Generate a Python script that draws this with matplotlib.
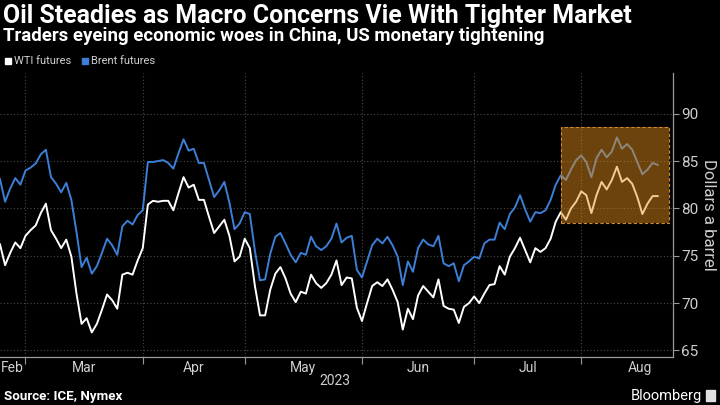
import numpy as np
import pandas as pd
import matplotlib
matplotlib.use("Agg")
import matplotlib.pyplot as plt
from matplotlib import font_manager
from matplotlib.patches import Rectangle

# daily futures settlements, weekdays 2023-02-21 .. 2023-08-21
dates = pd.bdate_range("2023-02-21", "2023-08-21")

brent = [83.1, 80.7, 82.1, 83.2, 82.5, 84.0, 84.3, 84.75, 85.7, 86.2,
         83.3, 82.6, 81.7, 82.7, 80.9, 77.5, 73.8, 74.8, 73.1, 73.9,
         75.3, 76.8, 76.1, 75.1, 78.1, 78.7, 78.3, 79.3, 79.8, 84.9,
         84.9, 85.0, 85.1, 84.8, 84.2, 85.8, 87.3, 86.1, 86.3, 84.8,
         84.8, 83.0, 81.2, 81.9, 82.8, 80.6, 77.8, 78.4, 79.6, 79.4,
         75.5, 72.4, 72.5, 75.2, 77.0, 77.4, 76.3, 75.1, 74.3, 75.3,
         75.1, 77.0, 76.0, 75.6, 76.0, 76.8, 78.4, 76.4, 76.9, 77.1,
         73.5, 72.7, 74.4, 76.1, 76.8, 76.3, 77.0, 76.1, 74.9, 71.9,
         74.4, 73.3, 75.8, 76.7, 76.2, 76.0, 77.1, 74.2, 73.9, 74.2,
         72.3, 74.0, 74.4, 74.9, 74.7, 76.3, 76.7, 76.7, 78.5, 77.8,
         79.4, 80.1, 81.4, 79.9, 78.6, 79.6, 79.5, 79.8, 80.9, 82.5,
         83.5, 83.0, 84.1, 85.1, 85.6, 84.9, 83.3, 85.3, 86.2, 85.4,
         86.0, 87.5, 86.3, 86.8, 86.2, 84.9, 83.6, 84.1, 84.8, 84.6]

wti = [76.2, 74.0, 75.3, 76.4, 75.8, 77.1, 77.7, 78.2, 79.5, 80.5,
       77.7, 76.8, 75.8, 76.7, 74.9, 71.0, 67.8, 68.4, 66.9, 67.8,
       69.3, 70.9, 70.3, 69.4, 73.0, 73.2, 73.0, 74.5, 75.8, 80.4,
       80.8, 80.7, 80.8, 80.8, 79.8, 81.6, 83.3, 82.2, 82.5, 80.9,
       80.9, 79.1, 77.4, 78.1, 78.8, 77.1, 74.4, 74.9, 76.8, 75.8,
       71.8, 68.7, 68.7, 71.4, 73.1, 73.8, 72.6, 71.0, 70.1, 71.2,
       71.0, 73.0, 72.1, 71.6, 72.1, 73.0, 74.5, 71.9, 72.7, 72.6,
       69.5, 68.1, 70.0, 71.8, 72.2, 71.8, 72.5, 71.4, 70.1, 67.2,
       69.4, 68.3, 70.8, 71.8, 71.2, 70.6, 72.5, 69.7, 69.4, 69.3,
       67.9, 69.6, 70.0, 70.7, 70.0, 71.0, 71.9, 72.0, 73.9, 73.0,
       74.9, 75.8, 76.9, 75.6, 74.3, 75.8, 75.4, 75.8, 76.8, 78.6,
       79.6, 78.8, 80.0, 80.7, 81.8, 81.4, 79.5, 81.4, 82.8, 82.0,
       83.0, 84.4, 82.8, 83.2, 82.6, 81.2, 79.4, 80.5, 81.3, 81.3]

months = ["Feb", "Mar", "Apr", "May", "Jun", "Jul", "Aug"]
yticks = [65, 70, 75, 80, 85, 90]

BG = "black"
BLUE = "#3d7fd6"
GRID = "#4a4a4a"
AXC = "#9a9a9a"
LBL = "#cfcfcf"

names = {f.name for f in font_manager.fontManager.ttflist}
narrow = "Liberation Sans Narrow" if "Liberation Sans Narrow" in names else "Roboto"

fig = plt.figure(figsize=(7.2, 4.05), dpi=100, facecolor=BG)
ax = fig.add_axes([0, 0.1185, 0.9347, 0.7012], facecolor=BG)

x = np.arange(len(dates))
ax.plot(x, brent, color=BLUE, lw=1.4, zorder=3)
ax.plot(x, wti, color="white", lw=1.4, zorder=3)

# highlighted recent stretch
ax.add_patch(Rectangle((110.1, 78.5), 21.1, 10.05, facecolor="#e8901a",
                       alpha=0.47, edgecolor="none", zorder=4))
ax.add_patch(Rectangle((110.1, 78.5), 21.1, 10.05, fill=False,
                       edgecolor="#d08a35", lw=0.8, ls=(0, (3, 2)), zorder=5))

ax.set_xlim(0, 132)
ax.set_ylim(64.3, 94.3)

# month boundaries = last weekday of previous month
alldays = pd.bdate_range("2023-01-02", "2023-09-29")
off = alldays.get_loc(dates[0])
bounds, centers = [], []
for m in range(2, 9):
    pos = np.where(alldays.month == m)[0] - off
    left, right = pos[0] - 1, pos[-1]
    if m > 2:
        bounds.append(left)
    centers.append((max(left, 0) + right) / 2)

ax.set_xticks(bounds)
ax.set_xticklabels([])
ax.set_xticks(centers, minor=True)
ax.set_xticklabels(months, minor=True, fontsize=10, color=LBL, family=narrow)
ax.tick_params(axis="x", which="major", length=5, color=AXC, width=0.8)
ax.tick_params(axis="x", which="minor", length=0, pad=3)

ax.yaxis.tick_right()
ax.set_yticks(yticks)
ax.set_yticklabels([str(v) for v in yticks], family=narrow)
ax.tick_params(axis="y", length=4, color=AXC, width=0.8, labelcolor=LBL,
               labelsize=11, pad=2)

ax.grid(True, which="major", color=GRID, ls=(0, (1, 2)), lw=0.8)
for s in ["top", "left"]:
    ax.spines[s].set_visible(False)
for s in ["right", "bottom"]:
    ax.spines[s].set_color(AXC)
    ax.spines[s].set_linewidth(0.9)

fig.text(709 / 720, 1 - 215 / 405, "Dollars a barrel", rotation=270,
         ha="center", va="center", color=LBL, fontsize=12, family=narrow)
fig.text(335 / 720, 1 - 381 / 405, "2023", ha="center", va="center",
         color=LBL, fontsize=10, family=narrow)

r = fig.canvas.get_renderer()


def fit(t, width):
    w = t.get_window_extent(r).width
    t.set_fontsize(t.get_fontsize() * width / w)


title = fig.text(3 / 720, 1 - 22.7 / 405,
                 "Oil Steadies as Macro Concerns Vie With Tighter Market",
                 color="white", fontsize=15, weight="bold", family="Roboto",
                 va="baseline")
fit(title, 633)
sub = fig.text(3 / 720, 1 - 40.7 / 405,
               "Traders eyeing economic woes in China, US monetary tightening",
               color="white", fontsize=11, weight="bold", family="Roboto",
               va="baseline")
fit(sub, 541)

# legend
fig.patches.append(Rectangle((5 / 720, 1 - 64 / 405), 6 / 720, 6 / 405,
                             transform=fig.transFigure, color="white"))
fig.text(14 / 720, 1 - 60.5 / 405, "WTI futures", color=LBL, fontsize=8,
         family=narrow, va="center")
fig.patches.append(Rectangle((82 / 720, 1 - 64 / 405), 6 / 720, 6 / 405,
                             transform=fig.transFigure, color=BLUE))
fig.text(91 / 720, 1 - 60.5 / 405, "Brent futures", color=LBL, fontsize=8,
         family=narrow, va="center")

src = fig.text(4 / 720, 1 - 400 / 405, "Source: ICE, Nymex", color="white",
               fontsize=8, weight="bold", family="Roboto", va="baseline")
fit(src, 118)
fig.text(702 / 720, 1 - 396 / 405, "Bloomberg", color="white", fontsize=10.5,
         family="Roboto", ha="right", va="center")
fig.patches.append(Rectangle((706 / 720, 1 - 401 / 405), 9 / 720, 11 / 405,
                             transform=fig.transFigure, color="#e0e0e0"))

fig.savefig("out.png", dpi=100, facecolor=BG)
